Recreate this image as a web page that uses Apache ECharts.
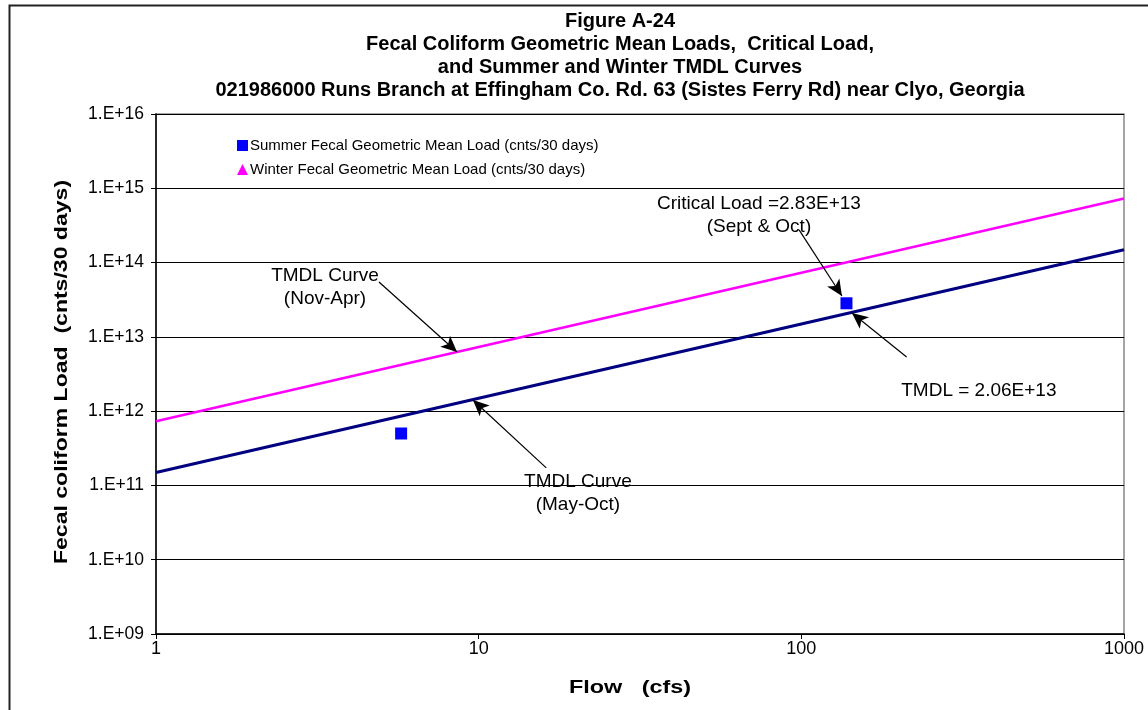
<!DOCTYPE html>
<html>
<head>
<meta charset="utf-8">
<script src="https://cdn.jsdelivr.net/npm/echarts@6/dist/echarts.min.js"></script>
<style>
html,body{margin:0;padding:0;background:#fff;}
#main{width:1148px;height:710px;}
</style>
</head>
<body>
<div id="main"></div>
<script>
// ---- data ----
var titleLines = [
  'Figure A-24',
  'Fecal Coliform Geometric Mean Loads,  Critical Load,',
  'and Summer and Winter TMDL Curves',
  '021986000 Runs Branch at Effingham Co. Rd. 63 (Sistes Ferry Rd) near Clyo, Georgia'
];
var xAxisTitle = 'Flow   (cfs)';
var yAxisTitle = 'Fecal coliform Load  (cnts/30 days)';
var summerName = 'Summer Fecal Geometric Mean Load (cnts/30 days)';
var winterName = 'Winter Fecal Geometric Mean Load (cnts/30 days)';
var summerPoints = [[5.75, 5.0e11], [138, 2.83e13]];
var winterPoints = [];
var summerTMDL = [[1, 1.49e11], [1000, 1.49e14]];
var winterTMDL = [[1, 7.3e11], [1000, 7.3e14]];
var xTicks = [1, 10, 100, 1000];
var yTickExps = [9, 10, 11, 12, 13, 14, 15, 16];
var annotations = [
  {text: 'Critical Load =2.83E+13\n(Sept & Oct)', at: [73.9, 4.4e14], from: [98.4, 2.75e14], to: [133.6, 3.55e13]},
  {text: 'TMDL = 2.06E+13', at: [355, 1.87e12], from: [212, 5.36e12], to: [143.5, 2.1e13]},
  {text: 'TMDL Curve\n(Nov-Apr)', at: [3.34, 4.6e13], from: [4.91, 5.48e13], to: [8.57, 6.26e12]},
  {text: 'TMDL Curve\n(May-Oct)', at: [20.3, 7.9e10], from: [16.2, 1.72e11], to: [9.6, 1.41e12]}
];

var FONT = '"Liberation Sans", Arial, sans-serif';
var chart = echarts.init(document.getElementById('main'), null, {renderer: 'canvas'});

var option = {
  backgroundColor: '#fff',
  animation: false,
  title: {
    text: titleLines.join('\n'),
    left: 615,
    top: 5,
    textAlign: 'center',
    textStyle: {fontFamily: FONT, fontSize: 20, fontWeight: 'bold', color: '#000', lineHeight: 23}
  },
  grid: {
    left: 156, right: 24, top: 114, bottom: 76,
    show: true, borderColor: '#888', borderWidth: 1.5, backgroundColor: '#fff'
  },
  legend: {
    orient: 'vertical',
    left: 232, top: 133,
    itemGap: 9,
    itemWidth: 11, itemHeight: 11,
    data: [
      {name: summerName, icon: 'rect', itemStyle: {color: '#0000ff', opacity: 1}},
      {name: winterName, icon: 'triangle', itemStyle: {color: '#ff00ff', opacity: 1}}
    ],
    textStyle: {fontFamily: FONT, fontSize: 15, color: '#000', padding: [0, 0, 0, -3]}
  },
  xAxis: {
    type: 'log', logBase: 10, min: xTicks[0], max: xTicks[xTicks.length - 1],
    axisLine: {show: true, onZero: false, lineStyle: {color: '#000', width: 1.5}},
    axisTick: {show: true, length: 5, lineStyle: {color: '#000'}},
    minorTick: {show: false},
    splitLine: {show: false},
    axisLabel: {fontFamily: FONT, fontSize: 18, color: '#000', margin: 6,
      formatter: function (v) { return String(Math.round(v)); }}
  },
  yAxis: {
    type: 'log', logBase: 10, min: Math.pow(10, yTickExps[0]), max: Math.pow(10, yTickExps[yTickExps.length - 1]),
    axisLine: {show: true, lineStyle: {color: '#000', width: 1.5}},
    axisTick: {show: true, length: 5, lineStyle: {color: '#000'}},
    splitLine: {show: true, lineStyle: {color: '#000', width: 1}},
    axisLabel: {fontFamily: FONT, fontSize: 17.5, color: '#000', margin: 12,
      formatter: function (v) {
        var e = Math.round(Math.log10(v));
        return '1.E+' + (e < 10 ? '0' + e : e);
      }}
  },
  series: [
    {
      name: 'Winter TMDL', type: 'line', data: winterTMDL, showSymbol: false, symbol: 'none',
      lineStyle: {color: '#ff00ff', width: 2.5}, z: 3
    },
    {
      name: 'Summer TMDL', type: 'line', data: summerTMDL, showSymbol: false, symbol: 'none',
      lineStyle: {color: '#000080', width: 3}, z: 3
    },
    {
      name: winterName, type: 'scatter', data: winterPoints,
      symbol: 'triangle', symbolSize: 11, itemStyle: {color: '#ff00ff', opacity: 1}, z: 5
    },
    {
      name: summerName, type: 'scatter', data: summerPoints,
      symbol: 'rect', symbolSize: 12, itemStyle: {color: '#0000ff', opacity: 1}, z: 5
    },
    {
      name: 'annotations', type: 'line', data: [], z: 6,
      markLine: {
        silent: true, animation: false,
        symbol: ['none', 'arrow'], symbolSize: [11, 16],
        lineStyle: {color: '#000', width: 1.2, type: 'solid'},
        label: {show: false},
        data: annotations.map(function (a) { return [{coord: a.from}, {coord: a.to}]; })
      },
      markPoint: {
        silent: true, animation: false, symbol: 'circle', symbolSize: 0,
        label: {show: true, position: 'inside', fontFamily: FONT, fontSize: 19, color: '#000',
          lineHeight: 23, align: 'center', verticalAlign: 'middle',
          formatter: function (p) { return p.name; }},
        data: annotations.map(function (a) { return {name: a.text, coord: a.at}; })
      }
    }
  ],
  graphic: [
    {type: 'rect', left: 7, top: 3, shape: {width: 1150, height: 720}, silent: true, z: -1,
      style: {fill: 'none', stroke: '#222', lineWidth: 2}},
    {type: 'text', x: 62, y: 372, rotation: Math.PI / 2, scaleX: 1.28, silent: true,
      style: {text: yAxisTitle, fontFamily: FONT, fontSize: 18, fontWeight: 'bold', fill: '#000',
        align: 'center', verticalAlign: 'middle'}},
    {type: 'text', x: 630, y: 688, scaleX: 1.3, silent: true,
      style: {text: xAxisTitle, fontFamily: FONT, fontSize: 18, fontWeight: 'bold', fill: '#000',
        align: 'center', verticalAlign: 'middle'}}
  ]
};
chart.setOption(option);
</script>
</body>
</html>
